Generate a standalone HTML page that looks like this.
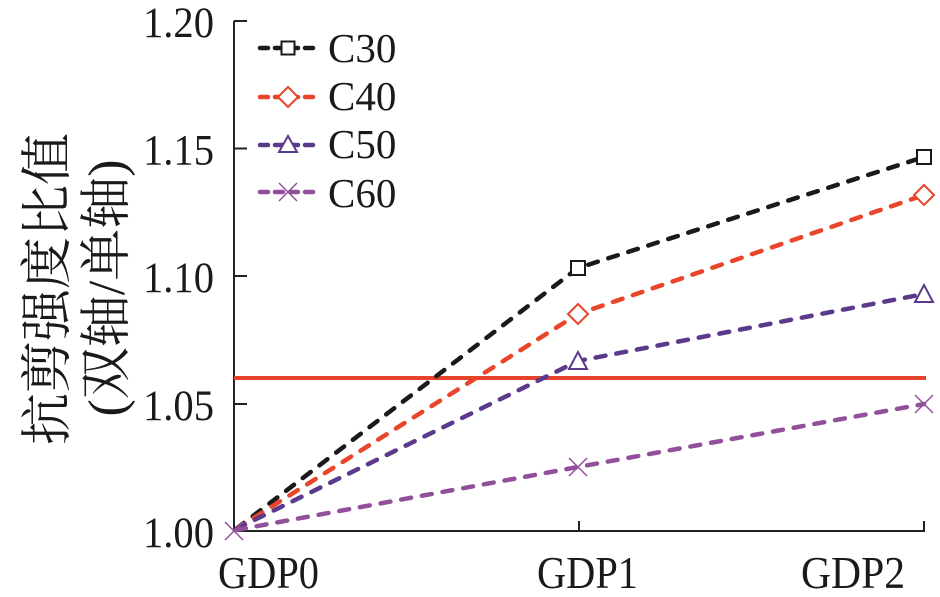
<!DOCTYPE html>
<html><head><meta charset="utf-8"><style>
html,body{margin:0;padding:0;background:#fff;}
svg{display:block;}
text{font-family:"Liberation Serif","Noto Serif CJK SC",serif;fill:#1a1a1a;}
</style></head><body>
<svg width="940" height="597" viewBox="0 0 940 597" xmlns="http://www.w3.org/2000/svg">
<rect width="940" height="597" fill="#fff"/>
<!-- axes -->
<g stroke="#222" stroke-width="2" fill="none">
<line x1="234" y1="21" x2="234" y2="532"/>
<line x1="233" y1="531" x2="925" y2="531"/>
<line x1="234" y1="21" x2="247" y2="21"/>
<line x1="234" y1="148.5" x2="247" y2="148.5"/>
<line x1="234" y1="276" x2="247" y2="276"/>
<line x1="234" y1="404" x2="247" y2="404"/>
<line x1="579" y1="531" x2="579" y2="521"/>
<line x1="924" y1="531" x2="924" y2="521"/>
</g>
<!-- y tick labels -->
<g font-size="43" text-anchor="end">
<text x="214" y="37" textLength="71" lengthAdjust="spacingAndGlyphs">1.20</text>
<text x="214" y="164.5" textLength="71" lengthAdjust="spacingAndGlyphs">1.15</text>
<text x="214" y="292" textLength="71" lengthAdjust="spacingAndGlyphs">1.10</text>
<text x="214" y="420" textLength="71" lengthAdjust="spacingAndGlyphs">1.05</text>
<text x="214" y="547" textLength="71" lengthAdjust="spacingAndGlyphs">1.00</text>
</g>
<!-- x tick labels -->
<g font-size="45">
<text x="218" y="588" textLength="101" lengthAdjust="spacingAndGlyphs">GDP0</text>
<text x="537" y="588" textLength="101" lengthAdjust="spacingAndGlyphs">GDP1</text>
<text x="801" y="588" textLength="104" lengthAdjust="spacingAndGlyphs">GDP2</text>
</g>
<!-- y title -->
<text transform="translate(65,289) rotate(-90)" text-anchor="middle" font-size="52" font-family="'Noto Serif CJK SC',serif">抗剪强度比值</text>
<text transform="translate(124,288) rotate(-90)" text-anchor="middle" font-size="52">(双轴/单轴)</text>
<!-- red reference line -->
<line x1="234" y1="378" x2="926" y2="378" stroke="#e5432a" stroke-width="4"/>
<!-- series -->
<g fill="none" stroke-width="4.5" stroke-linecap="round" stroke-dasharray="10 11">
<polyline points="236,529 578,268 924,157" stroke="#1a1a1a"/>
<polyline points="236,529 578,314 924,195" stroke="#e8452a"/>
<polyline points="236,529 578,361 924,294" stroke="#5b3a8c"/>
<polyline points="236,530 578,467 924,404" stroke="#93509a"/>
</g>
<!-- markers -->
<g fill="#fff" stroke-width="2">
<rect x="571" y="261" width="14" height="14" stroke="#1a1a1a"/>
<rect x="917" y="150" width="14" height="14" stroke="#1a1a1a"/>
<polygon points="578,304 588,314 578,324 568,314" stroke="#e8452a"/>
<polygon points="924,185 934,195 924,205 914,195" stroke="#e8452a"/>
<polygon points="578,352 587,369 569,369" stroke="#5b3a8c"/>
<polygon points="924,285 933,302 915,302" stroke="#5b3a8c"/>
</g>
<g stroke="#93509a" stroke-width="1.5">
<path d="M225,522 L243,540 M243,522 L225,540"/>
<path d="M569,458 L587,476 M587,458 L569,476"/>
<path d="M915,395 L933,413 M933,395 L915,413"/>
</g>
<!-- legend -->
<g fill="none" stroke-width="4.5" stroke-linecap="round" stroke-dasharray="8 7">
<line x1="260" y1="48" x2="316" y2="48" stroke="#1a1a1a"/>
<line x1="260" y1="97" x2="316" y2="97" stroke="#e8452a"/>
<line x1="260" y1="145" x2="316" y2="145" stroke="#5b3a8c"/>
<line x1="260" y1="192" x2="316" y2="192" stroke="#93509a"/>
</g>
<g fill="#fff" stroke-width="2">
<rect x="281.5" y="41.5" width="13" height="13" stroke="#1a1a1a"/>
<polygon points="288,87 298,97 288,107 278,97" stroke="#e8452a"/>
<polygon points="288,136 297,152 279,152" stroke="#5b3a8c"/>
</g>
<path d="M279,183 L297,201 M297,183 L279,201" stroke="#93509a" stroke-width="1.5"/>
<g font-size="41">
<text x="328" y="62">C30</text>
<text x="328" y="110">C40</text>
<text x="328" y="158">C50</text>
<text x="328" y="207">C60</text>
</g>
</svg>
</body></html>
